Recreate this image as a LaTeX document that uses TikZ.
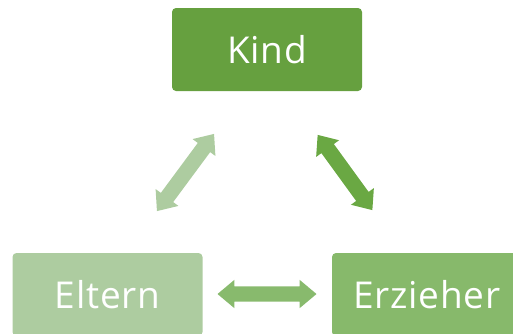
\documentclass[tikz,border=0pt]{standalone}
\usepackage{fontspec}
\setmainfont{Open Sans}[LetterSpace=2]
\usetikzlibrary{shapes.arrows}
\definecolor{cKind}{HTML}{66A03F}
\definecolor{cEltern}{HTML}{ADCCA0}
\definecolor{cErz}{HTML}{87B96B}
\definecolor{aLeft}{HTML}{ADCCA0}
\definecolor{aRight}{HTML}{6AA843}
\definecolor{aBottom}{HTML}{88BA6D}
\begin{document}
\begin{tikzpicture}[x=1pt,y=-1pt,
  box/.style={rounded corners=4pt, minimum width=190pt, minimum height=83pt, inner sep=0pt,
    text=white, font=\fontsize{37}{44}\selectfont},
  blockarrow/.style={double arrow, inner sep=0pt, inner ysep=7.5pt, double arrow head extend=6.5pt,
    double arrow tip angle=80, draw=none}]
\useasboundingbox (0,0) rectangle (513,333);
\node[box, fill=cKind] (kind) at (267,49.5) {Kind};
\node[box, fill=cEltern] (eltern) at (107.5,294.5) {Eltern};
\node[box, fill=cErz] (erz) at (427,294.5) {Erzieher};
\node[blockarrow, fill=aLeft, minimum height=96pt, rotate=53.5] (aL) at (185.5,172.5) {};
\node[blockarrow, fill=aRight, minimum height=93pt, rotate=-54] (aR) at (345,172.5) {};
\node[blockarrow, fill=aBottom, minimum height=99pt] (aB) at (267,294) {};
\end{tikzpicture}
\end{document}
